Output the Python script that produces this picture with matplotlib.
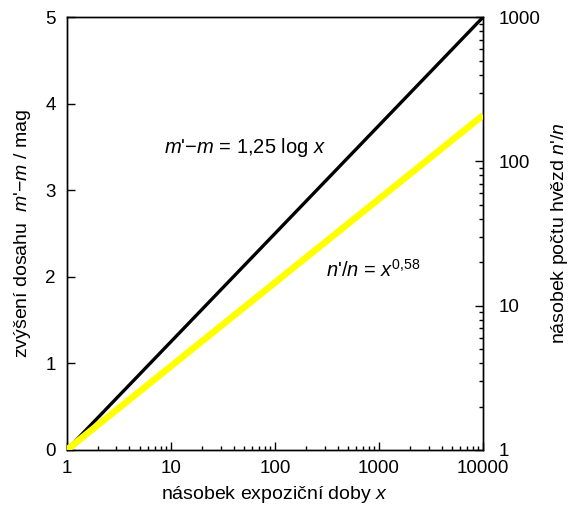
import matplotlib
matplotlib.use("Agg")
import matplotlib.pyplot as plt
from matplotlib.ticker import LogLocator, NullFormatter, NullLocator

plt.rcParams['font.family'] = ['Liberation Sans', 'DejaVu Sans']
plt.rcParams['mathtext.fontset'] = 'custom'
plt.rcParams['mathtext.rm'] = 'Liberation Sans'
plt.rcParams['mathtext.it'] = 'Liberation Sans:italic'

# data
x_vals = [1, 10000]
mag_gain = [0, 5]          # m'-m = 1.25 log x
count_gain = [1, 209]      # n'/n = x^0.58
x_ticks = [1, 10, 100, 1000, 10000]
x_ticklabels = ['1', '10', '100', '1000', '10000']
left_ticks = [0, 1, 2, 3, 4, 5]
right_ticks = [1, 10, 100, 1000]
right_ticklabels = ['1', '10', '100', '1000']

fig = plt.figure(figsize=(5.71, 5.05), dpi=100)
ax = fig.add_axes([0.117, 0.109, 0.729, 0.857])
ax2 = ax.twinx()

ax.plot(x_vals, mag_gain, color='black', lw=2.4, solid_capstyle='butt', zorder=2)
ax2.plot(x_vals, count_gain, color='#ffff00', lw=4.8, solid_capstyle='butt', zorder=3)

ax.set_xscale('log')
ax.set_xlim(1, 10000)
ax.set_ylim(0, 5)
ax2.set_yscale('log')
ax2.set_ylim(1, 1000)

ax.set_xticks(x_ticks)
ax.set_xticklabels(x_ticklabels)
ax.xaxis.set_minor_locator(LogLocator(base=10, subs=range(2, 10)))
ax.xaxis.set_minor_formatter(NullFormatter())
ax.set_yticks(left_ticks)
ax.set_yticklabels([str(t) for t in left_ticks])
ax.yaxis.set_minor_locator(NullLocator())

ax2.set_yticks(right_ticks)
ax2.set_yticklabels(right_ticklabels)
ax2.yaxis.set_minor_locator(LogLocator(base=10, subs=range(2, 10)))
ax2.yaxis.set_minor_formatter(NullFormatter())

ax.tick_params(axis='x', which='major', direction='in', length=6, width=1, labelsize=13.5, pad=7, top=False)
ax.tick_params(axis='x', which='minor', direction='in', length=3, width=1, top=False)
ax.tick_params(axis='y', which='major', direction='in', length=6, width=1, labelsize=13.5, pad=8, right=False)
ax2.tick_params(axis='y', which='major', direction='in', length=6, width=1, labelsize=13.5, pad=11)
ax2.tick_params(axis='y', which='minor', direction='in', length=3, width=1)

for a in (ax, ax2):
    for s in a.spines.values():
        s.set_linewidth(1)

ax.set_xlabel(r"násobek expoziční doby $x$", fontsize=14, labelpad=5)
ax.set_ylabel(r"zvýšení dosahu  $m$'−$m$ / mag", fontsize=14, labelpad=9)
ax2.set_ylabel(r"násobek počtu hvězd $n$'/$n$", fontsize=14, labelpad=6, rotation=90)

ax.text(52, 3.49, r"$m$'−$m$ = 1,25 log $x$", fontsize=14.5, ha='center', va='center')
ax.text(875, 2.08, r"$n$'/$n$ = $x^{0{,}58}$", fontsize=14.5, ha='center', va='center')

fig.savefig("out.png", dpi=100)
